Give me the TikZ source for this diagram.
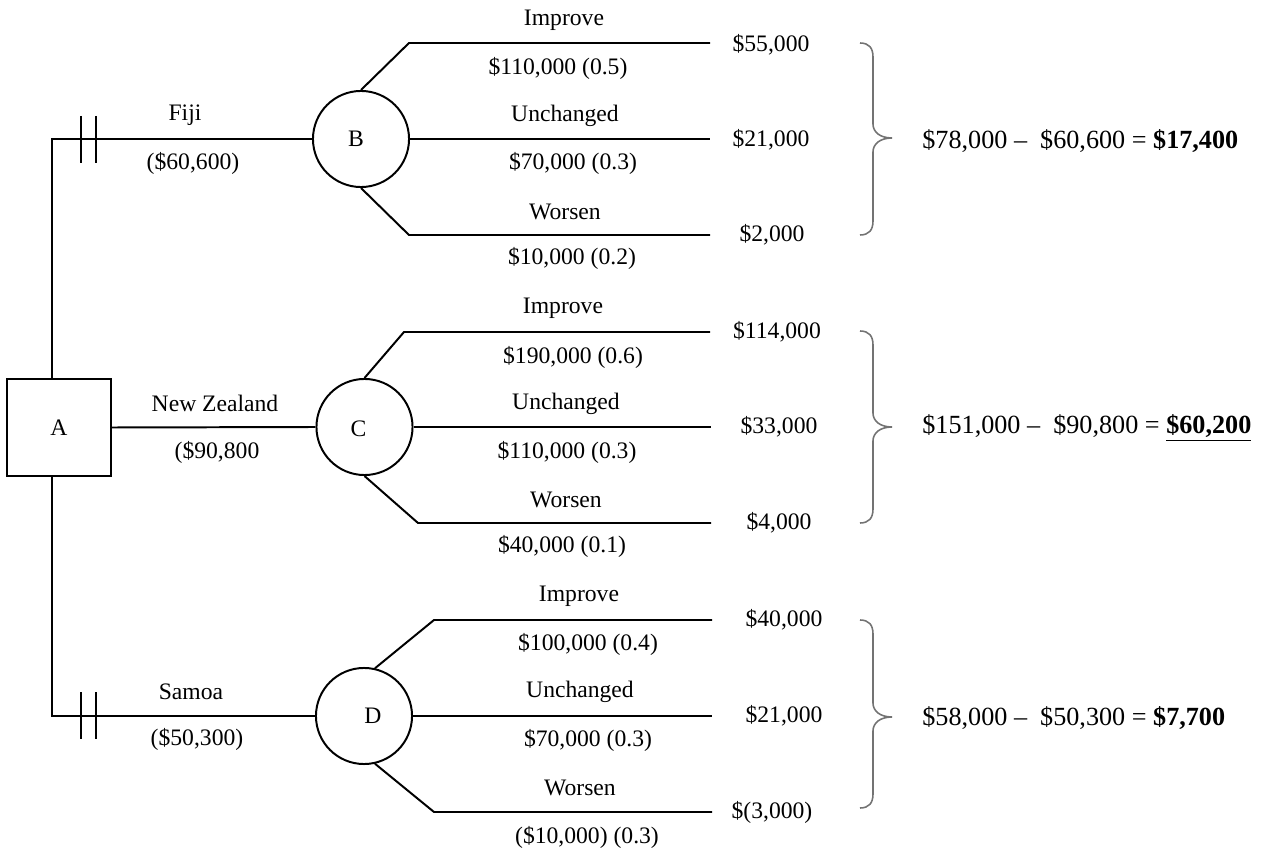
\documentclass[tikz,border=0pt]{standalone}
\usepackage{fontspec}
\setmainfont{Liberation Serif}
\usetikzlibrary{calc}
\newcommand\mybrace[3]{%
  \draw[curly] (860,#1) .. controls (869,#1) and (873,#1+5) .. (873,#1+14)
    -- (873,#2-14) .. controls (873,#2-6) and (880,#2) .. (892,#2)
    .. controls (880,#2) and (873,#2+6) .. (873,#2+14)
    -- (873,#3-14) .. controls (873,#3-5) and (869,#3) .. (860,#3);}
\begin{document}
\begin{tikzpicture}[x=0.508pt,y=-0.508pt,
  every node/.style={font=\fontsize{12}{14}\selectfont, inner sep=0pt},
  wire/.style={line width=1pt},
  chance/.style={circle, draw, line width=1pt, minimum size=48.8pt},
  decision/.style={rectangle, draw, line width=1pt, minimum width=52.8pt, minimum height=49.3pt},
  eq/.style={anchor=west, font=\fontsize{13.3}{16}\selectfont},
  curly/.style={draw=black!55, line width=0.8pt}
]
\useasboundingbox (0,0) rectangle (1269,850);

% decision node and chance nodes
\node[decision] (A) at (59,427.5) {A};
\node[chance, label={[xshift=-2.5pt]center:B}] (B) at (361,139) {};
\node[chance, label={[xshift=-3pt,yshift=-1pt]center:C}] (C) at (364.5,427) {};
\node[chance, label={[xshift=4.5pt]center:D}] (D) at (364,716) {};

% main connectors
\draw[wire] ($(A.north)+(-7,0)$) |- (B.west);
\draw[wire] ($(A.south)+(-7,0)$) |- (D.west);
\draw[wire] (A.east) -- (C.west);

% blocked-path marks
\draw[wire] (81,116) -- (81,163);
\draw[wire] (96,116) -- (96,163);
\draw[wire] (81,692) -- (81,739);
\draw[wire] (96,692) -- (96,739);

% labels on alternatives
\node (fiji) at (185,115) {Fiji};
\node (fijic) at (193,163) {(\$60,600)};
\node (nz) at (215,403) {New Zealand};
\node (nzc) at (217,452) {(\$90,800};
\node (sam) at (191,692) {Samoa};
\node (samc) at (197,739) {(\$50,300)};

% branches of B
\coordinate (B1k) at (409,43);  \coordinate (B1e) at (710,43);
\coordinate (B2e) at (710,139);
\coordinate (B3k) at (409,235); \coordinate (B3e) at (710,235);
\draw[wire] (B.north) -- (B1k) -- (B1e);
\draw[wire] (B.east) -- (B2e);
\draw[wire] (B.south) -- (B3k) -- (B3e);
\node (b1) at (564,20) {Improve};
\node (b1v) at (558,68) {\$110,000 (0.5)};
\node (b2) at (565,116) {Unchanged};
\node (b2v) at (573,163) {\$70,000 (0.3)};
\node (b3) at (565,212) {Worsen};
\node (b3v) at (572,258) {\$10,000 (0.2)};
\node (B1p) at (771,45) {\$55,000};
\node (B2p) at (771,140) {\$21,000};
\node (B3p) at (772,235) {\$2,000};

% branches of C
\coordinate (C1k) at (404,332); \coordinate (C1e) at (710,332);
\coordinate (C2e) at (711,427);
\coordinate (C3k) at (418,523); \coordinate (C3e) at (711,523);
\draw[wire] (C.north) -- (C1k) -- (C1e);
\draw[wire] (C.east) -- (C2e);
\draw[wire] (C.south) -- (C3k) -- (C3e);
\node (c1) at (563,308) {Improve};
\node (c1v) at (573,357) {\$190,000 (0.6)};
\node (c2) at (566,404) {Unchanged};
\node (c2v) at (567,452) {\$110,000 (0.3)};
\node (c3) at (566,500) {Worsen};
\node (c3v) at (562,546) {\$40,000 (0.1)};
\node (C1p) at (777,332) {\$114,000};
\node (C2p) at (779,427) {\$33,000};
\node (C3p) at (779,523) {\$4,000};

% branches of D
\coordinate (D1k) at (434,620); \coordinate (D1e) at (712,620);
\coordinate (D2e) at (712,716);
\coordinate (D3k) at (434,812); \coordinate (D3e) at (712,812);
\draw[wire] (D.77) -- (D1k) -- (D1e);
\draw[wire] (D.east) -- (D2e);
\draw[wire] (D.-77) -- (D3k) -- (D3e);
\node (d1) at (579,596) {Improve};
\node (d1v) at (588,644) {\$100,000 (0.4)};
\node (d2) at (580,692) {Unchanged};
\node (d2v) at (588,740) {\$70,000 (0.3)};
\node (d3) at (580,788) {Worsen};
\node (d3v) at (587,837) {(\$10,000) (0.3)};
\node (D1p) at (784,620) {\$40,000};
\node (D2p) at (784,716) {\$21,000};
\node (D3p) at (772,812) {\$(3,000)};

% braces
\mybrace{43}{138}{235}
\mybrace{331}{427}{523}
\mybrace{620}{717}{808}

% results
\node[eq] (eqB) at (922,141) {\$78,000 –\ \ \$60,600 = \textbf{\$17,400}};
\node[eq] (eqC) at (922,428) {\$151,000 –\ \ \$90,800 = \underline{\textbf{\$60,200}}};
\node[eq] (eqD) at (922,718) {\$58,000 –\ \ \$50,300 = \textbf{\$7,700}};
\end{tikzpicture}
\end{document}
